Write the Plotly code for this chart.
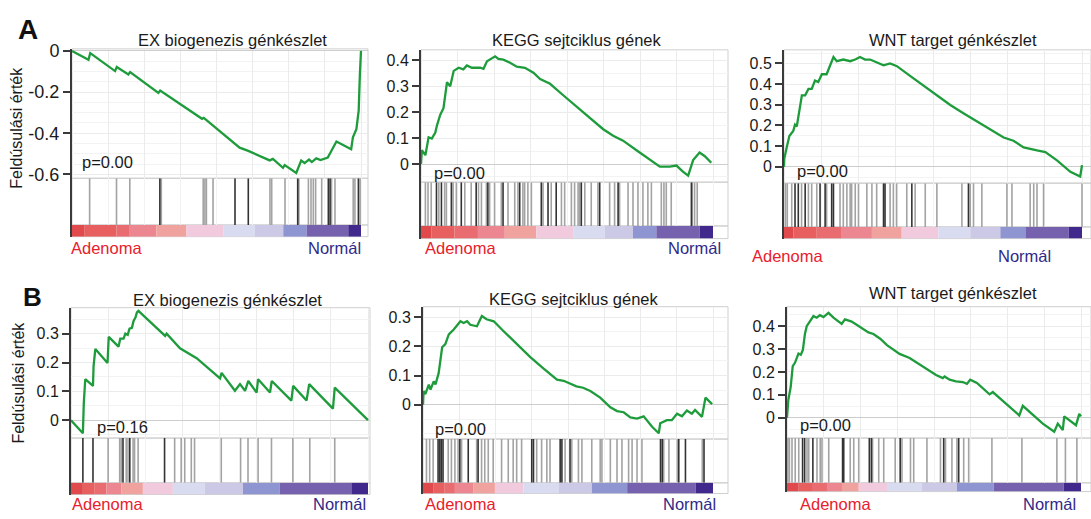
import plotly.graph_objects as go

# ---------------- data ----------------
titles = ["EX biogenezis génkészlet", "KEGG sejtciklus gének", "WNT target génkészlet",
          "EX biogenezis génkészlet", "KEGG sejtciklus gének", "WNT target génkészlet"]
pvalues = ["p=0.00", "p=0.00", "p=0.00", "p=0.16", "p=0.00", "p=0.00"]
label_left = "Adenoma"
label_right = "Normál"
y_title = "Feldúsulási érték"

# running enrichment score (x = % of ranked gene list)
a1_x = [0, 5.7, 6.3, 14.9, 15.5, 19.5, 20.1, 29.9, 30.5, 45, 45.6, 58, 61, 68.4, 69.5, 73, 73.6, 77.6, 79.3, 80.5,
        82, 83, 84.5, 86, 88.5, 89.5, 90.8, 91.5, 96.6, 97.2, 98.4, 99.2, 99.6, 100]
a1_es = [0, -0.043, -0.011, -0.098, -0.078, -0.114, -0.103, -0.204, -0.193, -0.33, -0.325, -0.47, -0.486, -0.532,
         -0.525, -0.568, -0.555, -0.593, -0.533, -0.545, -0.528, -0.54, -0.522, -0.53, -0.518, -0.49, -0.455, -0.44,
         -0.478, -0.42, -0.38, -0.29, -0.12, 0.0]
a2_x = [0, 0.3, 1.5, 2.6, 3.7, 4.9, 5.5, 6.6, 7.7, 8.3, 8.9, 10, 11.2, 12.9, 14.5, 15.7, 17.4, 20.3, 21.4, 22.6,
        24.3, 25.4, 26.5, 28.2, 30.5, 32.8, 35.6, 38.5, 40.8, 44.2, 48.7, 53.3, 57.9, 62.4, 65.8, 69.2, 73.8, 78.4,
        81.8, 85.2, 87.5, 89.7, 91.5, 93.2, 95.4, 97.2, 99.4]
a2_es = [0, 0.053, 0.034, 0.103, 0.098, 0.121, 0.15, 0.19, 0.215, 0.265, 0.315, 0.30, 0.359, 0.371, 0.365, 0.38,
         0.371, 0.371, 0.367, 0.396, 0.409, 0.415, 0.405, 0.402, 0.39, 0.375, 0.371, 0.352, 0.327, 0.309, 0.265,
         0.221, 0.178, 0.134, 0.109, 0.09, 0.053, 0.015, -0.01, -0.01, -0.006, -0.029, -0.045, 0.015, 0.044, 0.03,
         0.005]
a3_x = [0, 0.1, 0.9, 1.8, 3.1, 3.7, 4.3, 5.4, 6.0, 7.1, 8.2, 9.3, 10.4, 11.5, 12.7, 14.3, 15.5, 16.6, 17.7, 19.9,
        22.2, 23.9, 25.5, 27.2, 28.9, 31.1, 33.4, 35.6, 37.9, 42.3, 46.8, 51.3, 55.8, 60.2, 64.7, 69.2, 73.7, 77,
        80.4, 84.9, 87.7, 91.6, 96.1, 99.4, 100]
a3_es = [0, 0.039, 0.094, 0.149, 0.173, 0.204, 0.196, 0.30, 0.346, 0.346, 0.377, 0.377, 0.417, 0.41, 0.448, 0.448,
         0.487, 0.531, 0.511, 0.519, 0.511, 0.519, 0.531, 0.519, 0.519, 0.506, 0.491, 0.50, 0.487, 0.44, 0.393,
         0.346, 0.299, 0.259, 0.22, 0.181, 0.142, 0.126, 0.094, 0.079, 0.071, 0.031, -0.024, -0.047, 0.008]
b1_x = [0, 4.0, 4.3, 4.8, 7.4, 7.6, 8.2, 12.3, 12.7, 16.0, 16.6, 17.7, 18.3, 19.1, 19.7, 20.5, 21.1, 21.7, 22.2,
        22.7, 31.7, 32.2, 36.7, 39.0, 42.3, 50.2, 50.7, 55.2, 56.9, 58.6, 59.7, 62.5, 63.0, 67.0, 67.6, 74.2, 74.8,
        79.3, 80.2, 88.2, 88.8, 100]
b1_es = [0, -0.045, 0.057, 0.142, 0.119, 0.187, 0.247, 0.198, 0.289, 0.255, 0.283, 0.283, 0.30, 0.296, 0.317,
         0.32, 0.345, 0.356, 0.374, 0.379, 0.292, 0.30, 0.249, 0.236, 0.215, 0.145, 0.164, 0.102, 0.125, 0.102,
         0.136, 0.096, 0.142, 0.096, 0.136, 0.068, 0.119, 0.068, 0.125, 0.04, 0.113, 0]
b2_x = [0, 0.2, 0.8, 2.0, 2.6, 3.7, 4.3, 5.4, 6.6, 7.7, 8.9, 10.6, 12.9, 14.0, 15.2, 16.3, 18.6, 20.3, 21.9, 24.4,
        27.8, 32.4, 37, 41.6, 46.2, 48.5, 50.6, 52.9, 55.2, 57.7, 61.1, 64.6, 66.9, 69.2, 71.5, 73.8, 76.1, 79,
        81.3, 81.8, 84.1, 85.8, 87.6, 89.3, 91, 92.7, 93.8, 96.2, 97.4, 99.7]
b2_es = [0, 0.047, 0.036, 0.069, 0.052, 0.08, 0.069, 0.108, 0.197, 0.208, 0.241, 0.258, 0.286, 0.28, 0.286, 0.274,
         0.269, 0.304, 0.293, 0.286, 0.252, 0.208, 0.163, 0.124, 0.086, 0.082, 0.074, 0.063, 0.058, 0.047, 0.024,
         -0.009, -0.022, -0.026, -0.044, -0.048, -0.04, -0.076, -0.098, -0.064, -0.053, -0.053, -0.031, -0.04,
         -0.02, -0.031, -0.018, -0.042, 0.024, 0.002]
b3_x = [0, 0.45, 1.25, 1.95, 2.7, 3.3, 3.9, 4.7, 5.4, 6.1, 6.7, 9.0, 10.1, 11.2, 12.4, 14.1, 15.8, 18.6, 19.7, 22.0,
        24.3, 27.7, 29.4, 31.7, 34.0, 38.3, 41.7, 46.2, 50.7, 53.0, 53.6, 55.3, 57.5, 59.8, 61.2, 62.3, 64.6, 68.9,
        70.0, 73.4, 79.0, 80.2, 82.4, 87.0, 90.9, 92.1, 93.8, 94.3, 98.3, 99.4, 100]
b3_es = [0, 0.077, 0.134, 0.225, 0.24, 0.26, 0.28, 0.275, 0.296, 0.366, 0.40, 0.444, 0.437, 0.448, 0.44, 0.458,
         0.437, 0.41, 0.43, 0.42, 0.40, 0.373, 0.366, 0.345, 0.317, 0.279, 0.261, 0.223, 0.187, 0.173, 0.18, 0.166,
         0.159, 0.156, 0.148, 0.166, 0.152, 0.102, 0.112, 0.074, 0.01, 0.052, 0.028, -0.026, -0.061, -0.026,
         -0.054, 0.006, -0.033, 0.017, 0.006]

# gene-set hit positions (% of ranked list), darker and lighter strokes
a1_hits_dark = [30.4, 56.4, 61.0, 78.1, 88.7, 89.3, 99.1]
a1_hits_light = [6.1, 15.4, 20.0, 30.9, 45.4, 46.0, 46.5, 48.8, 68.5, 69.1, 73.7, 78.5, 81.8, 82.7, 83.5, 84.3,
                 86.4, 89.8, 91.0, 97.3, 97.9, 99.7]
a2_hits_dark = [5.3, 7.0, 10.4, 13.8, 18.9, 22.9, 28.1, 33.8, 41.2, 43.5, 46.3, 54.9, 61.2, 67.5, 92.6]
a2_hits_light = [1.5, 2.4, 3.5, 6.1, 8.1, 8.7, 11.0, 12.1, 15.0, 17.2, 19.7, 20.7, 22.4, 23.5, 25.2, 27.5, 29.8,
                 32.1, 33.2, 34.9, 35.5, 36.6, 37.8, 41.8, 44.6, 48.1, 49.2, 51.5, 52.6, 53.8, 54.3, 56.1, 58.3,
                 60.6, 64.6, 66.3, 68.0, 70.9, 72.6, 74.3, 76.0, 77.7, 78.9, 82.3, 83.2, 84.0, 85.7, 92.9, 93.7, 94.6]
a3_hits_dark = [3.7, 4.8, 7.1, 12.1, 13.8, 16.0, 16.6, 33.4, 33.9, 42.9, 61.9]
a3_hits_light = [0.5, 1.1, 2.6, 5.9, 8.2, 9.3, 11.0, 14.3, 18.8, 19.9, 21.1, 22.2, 22.7, 23.9, 25.0, 27.8, 29.5,
                 31.1, 35.6, 36.7, 37.8, 41.2, 44.0, 47.4, 51.3, 59.7, 62.5, 63.6, 66.4, 74.8, 76.5, 82.6, 83.8,
                 84.9, 87.1, 100]
b1_hits_dark = [4.0, 7.4, 17.5, 19.8, 31.5]
b1_hits_light = [12.5, 16.4, 16.9, 18.6, 19.2, 20.9, 21.4, 22.6, 34.9, 37.1, 38.3, 40.5, 41.6, 50.6, 57.1, 59.6,
                 63.0, 67.5, 74.7, 80.4, 88.8]
b2_hits_dark = [5.2, 5.8, 6.3, 6.9, 12.7, 15.6, 19.0, 37.5, 38.1, 47.3, 47.9, 50.7, 81.9, 82.5, 88.2, 90.5, 96.9]
b2_hits_light = [1.2, 2.3, 3.5, 8.7, 9.8, 11.0, 12.1, 13.3, 18.5, 20.2, 21.3, 22.5, 24.2, 27.1, 29.4, 31.1, 32.3,
                 34.0, 39.2, 40.9, 42.7, 43.8, 49.0, 51.3, 53.6, 54.8, 58.2, 61.1, 61.7, 64.6, 66.9, 68.6, 70.9,
                 72.1, 73.8, 75.5, 83.0, 84.8, 87.7, 96.3]
b3_hits_dark = [5.3, 6.0, 8.8, 18.9, 19.3, 28.0, 28.7, 38.5, 53.3, 58.4]
b3_hits_light = [0.3, 0.8, 1.7, 2.8, 4.0, 6.8, 7.4, 10.2, 11.3, 11.9, 14.2, 21.5, 22.7, 24.4, 29.1, 31.2, 32.9,
                 36.8, 39.1, 42.0, 43.1, 47.6, 52.2, 53.9, 56.1, 57.8, 60.1, 61.8, 69.7, 79.9, 91.8, 94.7, 98.6]

# phenotype colour strip: segment edges (% of ranked list) and colours
strip_colors = ["#e04a4c", "#e7605f", "#e96c70", "#ec8791", "#f0a29e", "#f2cade",
                "#d9dcf1", "#ccc9e7", "#8e95d1", "#7561ae", "#40288c"]
a1_edges = [0, 4.4, 15.4, 20, 29.2, 39.6, 52.3, 63.3, 73.1, 81.2, 95.6, 100]
a2_edges = [0, 3.5, 11.5, 19.5, 28.7, 39.5, 52.1, 62.9, 72.6, 80.6, 95.4, 100]
a3_edges = [0, 3.1, 11.0, 19.4, 29.5, 39.5, 51.8, 62.5, 72.6, 81.0, 95.5, 100]
b1_edges = [0, 4.0, 8.0, 11.9, 16.9, 24.2, 34.3, 45.0, 57.9, 70.3, 94.4, 100]
b2_edges = [0, 3.5, 7.5, 11.0, 17.3, 24.8, 34.6, 46.7, 58.2, 70.4, 94.0, 100]
b3_edges = [0, 4.0, 8.5, 13.6, 18.7, 24.4, 34.0, 45.9, 57.8, 70.3, 94.1, 100]

a1_ticks = [0, -0.2, -0.4, -0.6]
a2_ticks = [0, 0.1, 0.2, 0.3, 0.4]
a3_ticks = [0, 0.1, 0.2, 0.3, 0.4, 0.5]
b1_ticks = [0, 0.1, 0.2, 0.3]
b2_ticks = [0, 0.1, 0.2, 0.3]
b3_ticks = [0, 0.1, 0.2, 0.3, 0.4]

curves_x = [a1_x, a2_x, a3_x, b1_x, b2_x, b3_x]
curves_y = [a1_es, a2_es, a3_es, b1_es, b2_es, b3_es]
hits_dark = [a1_hits_dark, a2_hits_dark, a3_hits_dark, b1_hits_dark, b2_hits_dark, b3_hits_dark]
hits_light = [a1_hits_light, a2_hits_light, a3_hits_light, b1_hits_light, b2_hits_light, b3_hits_light]
edges = [a1_edges, a2_edges, a3_edges, b1_edges, b2_edges, b3_edges]
ticks = [a1_ticks, a2_ticks, a3_ticks, b1_ticks, b2_ticks, b3_ticks]

# ---------------- layout geometry (pixels) ----------------
W, H = 1091, 519
geo = [
    dict(ax=72, end=361, right=368, top=42, mid=175, st=223, bot=235, yr=[-0.619, 0.01], tf=18,
         title=(232, 33), p=(80, 158), lab=(69, 363, 247)),
    dict(ax=421, end=713, right=728, top=43, mid=179, st=224, bot=237, yr=[-0.07, 0.44], tf=16,
         title=(576, 33), p=(432, 170), lab=(423, 723, 247)),
    dict(ax=784, end=1082, right=1091, top=43, mid=180, st=225, bot=237, yr=[-0.079, 0.566], tf=16,
         title=(953, 33), p=(795, 168), lab=(750, 1053, 255)),
    dict(ax=71, end=368, right=370, top=308, mid=442, st=488, bot=500, yr=[-0.062, 0.39], tf=16,
         title=(227, 300), p=(95, 431), lab=(70, 368, 510)),
    dict(ax=423, end=713, right=728, top=307, mid=443, st=488, bot=499, yr=[-0.118, 0.336], tf=16,
         title=(573, 299), p=(433, 433), lab=(423, 718, 510)),
    dict(ax=787, end=1081, right=1091, top=307, mid=442, st=488, bot=497, yr=[-0.089, 0.485], tf=16,
         title=(953, 293), p=(798, 429), lab=(798, 1078, 510)),
]

FONT = "Liberation Sans, Arial, sans-serif"
GREEN = "#1e9c3c"
AXIS = "#3a3a3a"
GRID = "#ebebeb"
FRAME = "#cfcfcf"


def xd(a, b):
    return [a / W, min(b / W, 1.0)]


def yd(top, bot):
    return [1 - bot / H, 1 - top / H]


def fmt(v):
    return "0" if v == 0 else ("%g" % v)


def sfx(k):
    return "" if k == 1 else str(k)


fig = go.Figure()
layout = dict(width=W, height=H, margin=dict(l=0, r=0, t=0, b=0), paper_bgcolor="white",
              plot_bgcolor="white", showlegend=False, font=dict(family=FONT, color="#222"),
              shapes=[], annotations=[])

for i, g in enumerate(geo):
    k1, k2, k3 = 3 * i + 1, 3 * i + 2, 3 * i + 3
    s1, s2, s3 = sfx(k1), sfx(k2), sfx(k3)
    xr = [0, (g["right"] - g["ax"]) / (g["end"] - g["ax"]) * 100]
    dom_x = xd(g["ax"], g["right"])

    fig.add_trace(go.Scatter(x=curves_x[i], y=curves_y[i], mode="lines",
                             line=dict(color=GREEN, width=2.3), xaxis="x" + s1, yaxis="y" + s1,
                             hoverinfo="skip"))
    for hl, col in ((hits_light[i], "#a3a3a3"), (hits_dark[i], "#333333")):
        hx, hy = [], []
        for h in hl:
            hx += [h, h, None]
            hy += [0, 1, None]
        fig.add_trace(go.Scatter(x=hx, y=hy, mode="lines", line=dict(color=col, width=1.6),
                                 xaxis="x" + s2, yaxis="y" + s2, hoverinfo="skip"))
    e = edges[i]
    fig.add_trace(go.Bar(x=[(e[j] + e[j + 1]) / 2 for j in range(len(e) - 1)],
                         y=[1] * (len(e) - 1), width=[e[j + 1] - e[j] for j in range(len(e) - 1)],
                         marker=dict(color=strip_colors[:len(e) - 1], line=dict(width=0)),
                         xaxis="x" + s3, yaxis="y" + s3, hoverinfo="skip"))

    tk = ticks[i]
    layout["xaxis" + s1] = dict(domain=dom_x, range=xr, anchor="y" + s1, showticklabels=False,
                                ticks="", showgrid=True, gridcolor=GRID, tick0=0, dtick=12.5,
                                zeroline=False, showline=False)
    layout["yaxis" + s1] = dict(domain=yd(g["top"], g["mid"]), range=g["yr"], anchor="x" + s1,
                                tickvals=tk, ticktext=[fmt(v) for v in tk], ticks="outside", ticklen=7,
                                tickwidth=1.6, tickcolor=AXIS, showline=True, linecolor=AXIS, linewidth=2,
                                showgrid=True, gridcolor=GRID, zeroline=True, zerolinecolor="#cdcdcd",
                                zerolinewidth=1, tickfont=dict(size=g["tf"], color="#1a1a1a"),
                                minor=dict(dtick=0.05, showgrid=True, gridcolor="#f3f3f3"))
    layout["xaxis" + s2] = dict(domain=dom_x, range=xr, anchor="y" + s2, showticklabels=False,
                                ticks="", showgrid=True, gridcolor="#f2f2f2", tick0=0, dtick=12.5,
                                zeroline=False, showline=False)
    layout["yaxis" + s2] = dict(domain=yd(g["mid"], g["st"]), range=[0, 1], anchor="x" + s2,
                                showticklabels=False, ticks="", showgrid=False, zeroline=False,
                                showline=True, linecolor=AXIS, linewidth=2)
    layout["xaxis" + s3] = dict(domain=dom_x, range=xr, anchor="y" + s3, showticklabels=False,
                                ticks="", showgrid=False, zeroline=False, showline=False)
    layout["yaxis" + s3] = dict(domain=yd(g["st"], g["bot"]), range=[0, 1], anchor="x" + s3,
                                showticklabels=False, ticks="", showgrid=False, zeroline=False,
                                showline=True, linecolor=AXIS, linewidth=2)
    for s in (s1, s2, s3):
        layout["shapes"].append(dict(type="rect", xref="x%s domain" % s, yref="y%s domain" % s,
                                     x0=0, x1=1, y0=0, y1=1, line=dict(color=FRAME, width=1),
                                     layer="below"))

    tx, ty = g["title"]
    layout["annotations"].append(dict(text=titles[i], x=tx / W, y=1 - ty / H, xref="paper", yref="paper",
                                      xanchor="center", yanchor="middle", showarrow=False,
                                      font=dict(size=16.5, color="#1a1a1a")))
    px, py = g["p"]
    layout["annotations"].append(dict(text=pvalues[i], x=px / W, y=1 - py / H, xref="paper", yref="paper",
                                      xanchor="left", yanchor="middle", showarrow=False,
                                      font=dict(size=16.5, color="#1a1a1a")))
    lx, rx, ly = g["lab"]
    layout["annotations"].append(dict(text=label_left, x=lx / W, y=1 - ly / H, xref="paper", yref="paper",
                                      xanchor="left", yanchor="middle", showarrow=False,
                                      font=dict(size=16.5, color="#e8202c")))
    layout["annotations"].append(dict(text=label_right, x=rx / W, y=1 - ly / H, xref="paper", yref="paper",
                                      xanchor="right", yanchor="middle", showarrow=False,
                                      font=dict(size=16.5, color="#2f2a88")))

for (yx, yy) in ((17, 123), (19, 385)):
    layout["annotations"].append(dict(text=y_title, x=yx / W, y=1 - yy / H, xref="paper", yref="paper",
                                      xanchor="center", yanchor="middle", textangle=-90, showarrow=False,
                                      font=dict(size=16, color="#1a1a1a")))
for (lt, lxp, lyp, fs) in (("A", 28, 22, 28), ("B", 32, 297, 26)):
    layout["annotations"].append(dict(text="<b>%s</b>" % lt, x=lxp / W, y=1 - lyp / H, xref="paper",
                                      yref="paper", xanchor="center", yanchor="middle", showarrow=False,
                                      font=dict(size=fs, color="#111")))

fig.update_layout(**layout)
fig.write_html("out.html", config={"responsive": False, "displayModeBar": False})

# remove the default page margin so the figure sits at the window origin
with open("out.html", "r", encoding="utf-8") as fh:
    html = fh.read()
html = html.replace("<head>", "<head><style>html,body{margin:0;padding:0;overflow:hidden;}</style>", 1)
with open("out.html", "w", encoding="utf-8") as fh:
    fh.write(html)
